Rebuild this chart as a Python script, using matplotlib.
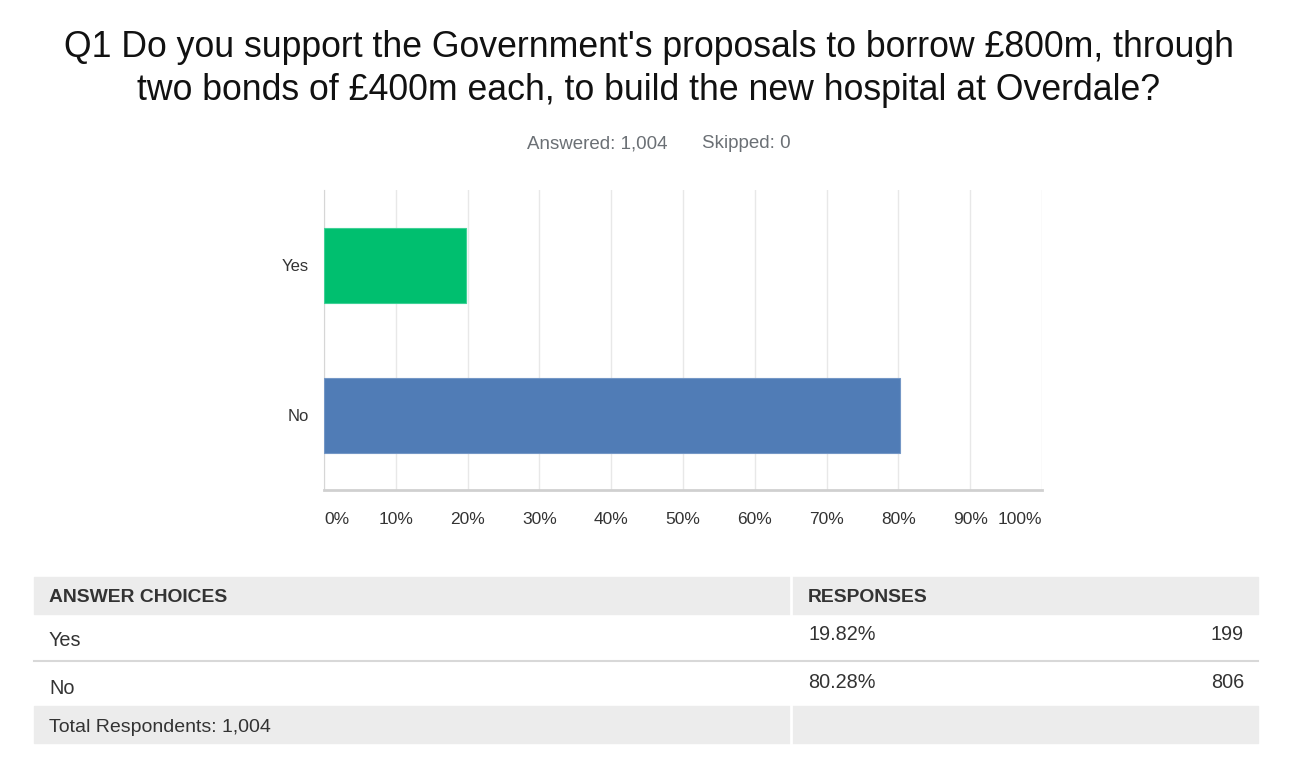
import matplotlib

matplotlib.use("Agg")
import matplotlib.pyplot as plt
from matplotlib.patches import Rectangle

# Dados da pergunta Q1
categorias = ["Yes", "No"]
percentuais = [19.82, 80.28]
contagens = [199, 806]
total = 1004
pulados = 0
ticks_x = [0, 10, 20, 30, 40, 50, 60, 70, 80, 90, 100]
cores = ["#00bf6f", "#507cb6"]

W, H = 1297, 763
plt.rcParams["font.family"] = ["Liberation Sans", "DejaVu Sans"]

fig = plt.figure(figsize=(W / 100, H / 100), dpi=100)

# camada de fundo em pixels para titulo e tabela
bg = fig.add_axes([0, 0, 1, 1])
bg.set_xlim(0, W)
bg.set_ylim(H, 0)
bg.axis("off")

bg.text(649, 69, "Q1 Do you support the Government's proposals to borrow £800m, through\n"
        "two bonds of £400m each, to build the new hospital at Overdale?",
        ha="center", va="center", fontsize=25.7, color="#111111", linespacing=1.27)
bg.text(597, 144, f"Answered: {total:,}", ha="center", va="center", fontsize=13.5, color="#6b7075")
bg.text(746, 144, f"Skipped: {pulados}", ha="center", va="center", fontsize=13.5, color="#6b7075")

# grafico de barras
x0, x1, y0, y1 = 324, 1042, 190, 490
ax = fig.add_axes([x0 / W, 1 - y1 / H, (x1 - x0) / W, (y1 - y0) / H])
pos = [1, 0]
ax.barh(pos, percentuais, height=0.5, color=cores, edgecolor=["#3fd196", "#7497c6"], linewidth=0.8, zorder=3)
ax.set_xlim(0, 100)
ax.set_ylim(-0.5, 1.5)
ax.set_xticks(ticks_x)
ax.set_xticklabels([f"{t}%" for t in ticks_x], fontsize=12.5, color="#333333")
rot = ax.get_xticklabels()
rot[0].set_ha("left")
rot[-1].set_ha("right")
ax.set_yticks(pos)
ax.set_yticklabels(categorias, fontsize=12, color="#333333")
ax.tick_params(length=0, pad=11, axis="y")
ax.tick_params(length=0, pad=16, axis="x")
ax.grid(axis="x", color="#e8e8e8", linewidth=1, zorder=0)
for lado in ["top", "right"]:
    ax.spines[lado].set_visible(False)
ax.spines["left"].set_color("#d6d6d6")
ax.spines["bottom"].set_color("#d0d0d0")
ax.spines["bottom"].set_linewidth(2)
ax.set_facecolor("none")

# tabela de respostas
tx0, tx1, tsep = 34, 1258, 791
cinza = "#ececec"
bg.add_patch(Rectangle((tx0, 577), tx1 - tx0, 37, color=cinza, zorder=1))
bg.add_patch(Rectangle((tx0, 706), tx1 - tx0, 37, color=cinza, zorder=1))
bg.plot([tsep, tsep], [577, 614], color="white", linewidth=2, zorder=2)
bg.plot([tsep, tsep], [706, 743], color="white", linewidth=2, zorder=2)
bg.plot([tx0, tx1], [660.5, 660.5], color="#d8d8d8", linewidth=1.5, zorder=2)

bg.text(49, 598, "ANSWER CHOICES", ha="left", va="center", fontsize=13.9, fontweight="bold", color="#333333")
bg.text(808, 598, "RESPONSES", ha="left", va="center", fontsize=13.9, fontweight="bold", color="#333333")

linhas_y = [641, 688]
for cat, pct, n, yy in zip(categorias, percentuais, contagens, linhas_y):
    bg.text(49, yy, cat, ha="left", va="center", fontsize=14.3, color="#333333")
    bg.text(808, yy - 6, f"{pct:.2f}%", ha="left", va="center", fontsize=14.3, color="#333333")
    bg.text(1244, yy - 6, f"{n}", ha="right", va="center", fontsize=14.3, color="#333333")

bg.text(49, 727, f"Total Respondents: {total:,}", ha="left", va="center", fontsize=14, color="#333333")

fig.savefig("out.png", dpi=100)
